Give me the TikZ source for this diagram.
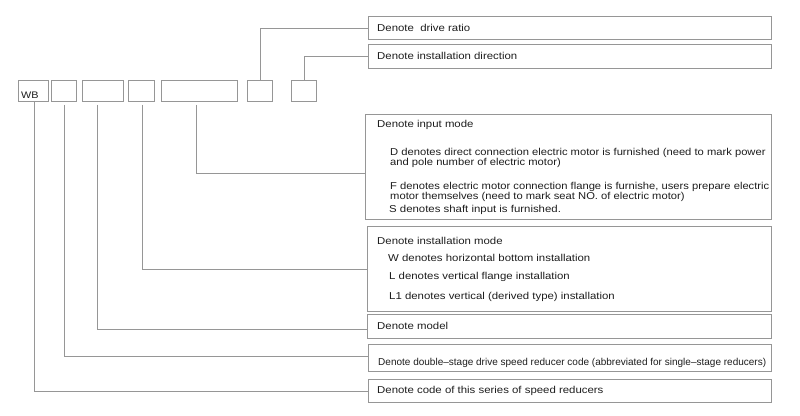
\documentclass[tikz,border=0pt]{standalone}
\usepackage{fontspec}
\setmainfont{Liberation Sans}[FakeStretch=1.14]
\newfontfamily\narrowfont{Liberation Sans}[FakeStretch=1.12]
\usepackage{graphicx}
\definecolor{linegray}{RGB}{150,150,150}
\definecolor{txt}{RGB}{30,30,30}
\begin{document}
\begin{tikzpicture}[x=1pt,y=-1pt,
  box/.style={draw=linegray, line width=0.9pt, inner sep=0pt, anchor=north west, fill=white},
  conn/.style={draw=linegray, line width=0.9pt},
  lbl/.style={anchor=west, inner sep=0pt, text=txt, font=\fontsize{10}{10.5}\selectfont, align=left}]
\useasboundingbox[fill=white] (0,0) rectangle (800,415);
% code boxes
\node[box, minimum width=30pt, minimum height=21pt] (b1) at (18,80) {};
\node[box, minimum width=25pt, minimum height=21pt] (b2) at (51,80) {};
\node[box, minimum width=41pt, minimum height=21pt] (b3) at (82,80) {};
\node[box, minimum width=26pt, minimum height=21pt] (b4) at (128,80) {};
\node[box, minimum width=76pt, minimum height=21pt] (b5) at (161,80) {};
\node[box, minimum width=25pt, minimum height=21pt] (b6) at (247,80) {};
\node[box, minimum width=25pt, minimum height=21pt] (b7) at (291,80) {};
\node[lbl, font=\fontsize{9.5}{10}\selectfont] (wb) at (21,95) {WB};
% description boxes
\node[box, minimum width=403pt, minimum height=23pt] (ratio) at (368,16) {};
\node[box, minimum width=403pt, minimum height=24pt] (dir) at (368,44) {};
\node[box, minimum width=406pt, minimum height=105pt] (input) at (365,114) {};
\node[box, minimum width=404pt, minimum height=85pt] (inst) at (367,226) {};
\node[box, minimum width=404pt, minimum height=24pt] (model) at (367,314) {};
\node[box, minimum width=403pt, minimum height=27pt] (dbl) at (368,344) {};
\node[box, minimum width=403pt, minimum height=23pt] (code) at (368,379) {};
% texts
\node[lbl] (t1) at (377,27.5) {Denote\ \ drive ratio};
\node[lbl] (t2) at (377,56) {Denote installation direction};
\node[lbl] (t3) at (377,125) {Denote input mode};
\node[lbl, font=\narrowfont\fontsize{10}{10.5}\selectfont] (t4) at (390,158) {D denotes direct connection electric motor is furnished (need to mark power\\and pole number of electric motor)};
\node[lbl, font=\narrowfont\fontsize{10}{10.5}\selectfont] (t5) at (390,192) {F denotes electric motor connection flange is furnishe, users prepare electric\\motor themselves (need to mark seat NO. of electric motor)};
\node[lbl] (t6) at (389,209.5) {S denotes shaft input is furnished.};
\node[lbl] (t7) at (377,241) {Denote installation mode};
\node[lbl] (t8) at (388,258) {W denotes horizontal bottom installation};
\node[lbl] (t9) at (389,277) {L denotes vertical flange installation};
\node[lbl] (t10) at (389,297) {L1 denotes vertical (derived type) installation};
\node[lbl] (t11) at (377,326) {Denote model};
\node[lbl] (t12) at (378,363) {\resizebox{388pt}{\height}{Denote double–stage drive speed reducer code (abbreviated for single–stage reducers)}};
\node[lbl] (t13) at (377,390.5) {Denote code of this series of speed reducers};
% connectors
\draw[conn] (b6.north) |- (ratio.west);
\draw[conn] (b7.north) |- (dir.west);
\draw[conn] ([xshift=-3pt,yshift=-3pt]b5.south) |- ([yshift=-6.5pt]input.west);
\draw[conn] ([xshift=1pt,yshift=-3pt]b4.south) |- (inst.west);
\draw[conn] ([xshift=-5.5pt,yshift=-3pt]b3.south) |- ([yshift=-3pt]model.west);
\draw[conn] ([xshift=0.5pt,yshift=-3pt]b2.south) |- ([yshift=1.5pt]dbl.west);
\draw[conn] ([xshift=1pt]b1.south) |- (code.west);
\end{tikzpicture}
\end{document}
